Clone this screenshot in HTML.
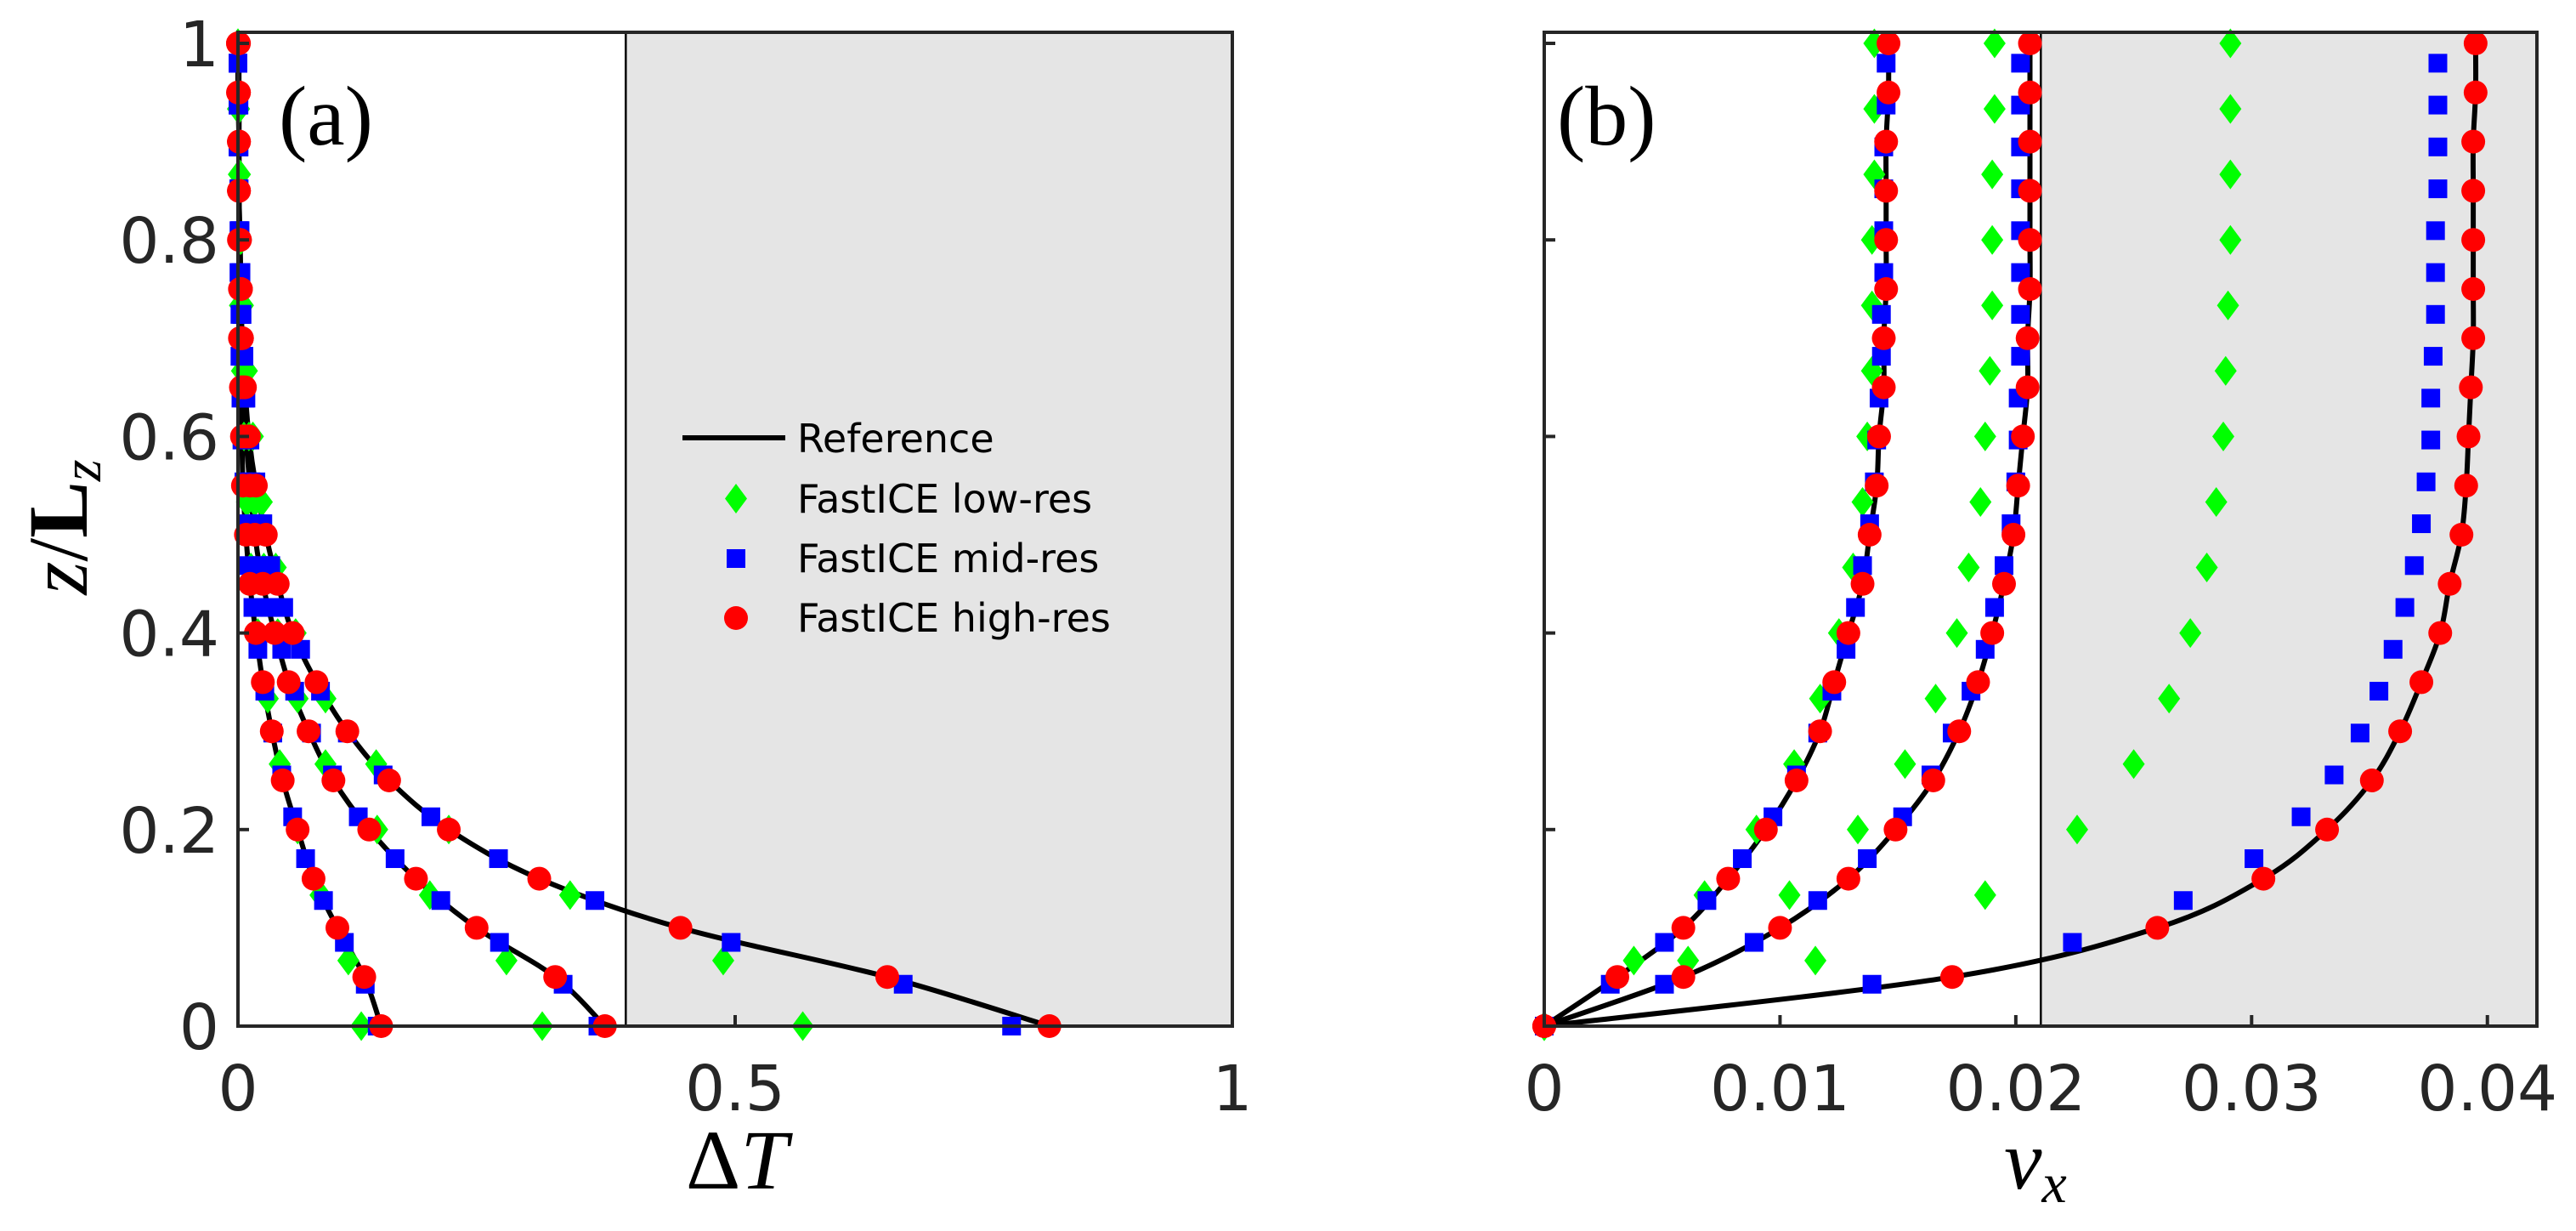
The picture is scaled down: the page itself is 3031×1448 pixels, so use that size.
<!DOCTYPE html>
<html><head><meta charset="utf-8"><style>
html,body{margin:0;padding:0;background:#fff;}
svg{display:block;}
.tick{font-family:"DejaVu Sans","Liberation Sans",sans-serif;font-size:74px;fill:#262626;}
.leg{font-family:"DejaVu Sans","Liberation Sans",sans-serif;font-size:46px;fill:#000;}
.ser{font-family:"Liberation Serif","DejaVu Serif",serif;font-size:100px;fill:#000;}
</style></head><body>
<svg id="chart" width="3031" height="1448" viewBox="0 0 3031 1448" xmlns="http://www.w3.org/2000/svg"></svg>
<script>
// ---------- Panel (a) data: z levels and ΔT values ----------
const zHigh = [0,0.05,0.1,0.15,0.2,0.25,0.3,0.35,0.4,0.45,0.5,0.55,0.6,0.65,0.7,0.75,0.8,0.85,0.9,0.95,1.0];
const zMid = [0,0.0426,0.0852,0.1278,0.1704,0.213,0.2556,0.2982,0.3408,0.3834,0.426,0.4686,0.5112,0.5538,0.5964,0.639,0.6816,0.7242,0.7668,0.8094,0.852,0.8946,0.9372,0.9798];
const zLow = [0,0.0667,0.1333,0.2,0.2667,0.3333,0.4,0.4667,0.5333,0.6,0.6667,0.7333,0.8,0.8667,0.9333,1.0];

const refA1 = [0.144,0.127,0.1,0.076,0.06,0.045,0.034,0.025,0.018,0.012,0.008,0.005,0.004,0.003,0.002,0.002,0.001,0.001,0.001,0.001,0];
const refA2 = [0.369,0.319,0.24,0.179,0.132,0.096,0.071,0.051,0.037,0.025,0.017,0.012,0.008,0.005,0.004,0.003,0.002,0.001,0.001,0.001,0.001];
const refA3 = [0.816,0.653,0.445,0.303,0.212,0.152,0.11,0.079,0.055,0.04,0.028,0.018,0.011,0.007,0.004,0.003,0.002,0.001,0.001,0,0];

const highA1 = [0.144,0.127,0.1,0.076,0.06,0.045,0.034,0.025,0.018,0.012,0.008,0.005,0.004,0.003,0.002,0.002,0.001,0.001,0.001,0.001,0];
const highA2 = [0.369,0.319,0.24,0.179,0.132,0.096,0.071,0.051,0.037,0.025,0.017,0.012,0.008,0.005,0.004,0.003,0.002,0.001,0.001,0.001,0.001];
const highA3 = [0.816,0.653,0.445,0.303,0.212,0.152,0.11,0.079,0.055,0.04,0.028,0.018,0.011,0.007,0.004,0.003,0.002,0.001,0.001,0,0];

const midA1 = [0.14,0.128,0.107,0.086,0.068,0.055,0.044,0.035,0.027,0.02,0.015,0.011,0.008,0.006,0.004,0.003,0.002,0.002,0.001,0.001,0.001,0,0,0];
const midA2 = [0.362,0.327,0.263,0.204,0.158,0.121,0.095,0.074,0.057,0.044,0.033,0.024,0.018,0.013,0.009,0.007,0.005,0.004,0.003,0.002,0.001,0.001,0,0];
const midA3 = [0.778,0.669,0.496,0.359,0.262,0.194,0.146,0.11,0.083,0.063,0.046,0.033,0.025,0.018,0.012,0.008,0.006,0.004,0.003,0.002,0.001,0.001,0.001,0];

const lowA1 = [0.124,0.111,0.083,0.06,0.042,0.03,0.02,0.013,0.009,0.006,0.004,0.002,0.001,0.001,0,0];
const lowA2 = [0.306,0.27,0.193,0.14,0.088,0.06,0.04,0.026,0.017,0.011,0.007,0.004,0.002,0.001,0.001,0];
const lowA3 = [0.568,0.488,0.334,0.212,0.139,0.088,0.058,0.038,0.024,0.015,0.009,0.005,0.003,0.002,0.001,0];

// ---------- Panel (b) data: v_x values ----------
const refB1 = [0,0.0031,0.0059,0.0078,0.0094,0.0107,0.0117,0.0123,0.0129,0.0135,0.0138,0.0141,0.0142,0.0144,0.0144,0.0145,0.0145,0.0145,0.0145,0.0146,0.0146];
const refB2 = [0,0.0059,0.01,0.0129,0.0149,0.0165,0.0176,0.0184,0.019,0.0195,0.0199,0.0201,0.0203,0.0205,0.0205,0.0206,0.0206,0.0206,0.0206,0.0206,0.0206];
const refB3 = [0,0.0173,0.026,0.0305,0.0332,0.0351,0.0363,0.0372,0.038,0.0384,0.0389,0.0391,0.0392,0.0393,0.0394,0.0394,0.0394,0.0394,0.0394,0.0395,0.0395];

const highB1 = [0,0.0031,0.0059,0.0078,0.0094,0.0107,0.0117,0.0123,0.0129,0.0135,0.0138,0.0141,0.0142,0.0144,0.0144,0.0145,0.0145,0.0145,0.0145,0.0146,0.0146];
const highB2 = [0,0.0059,0.01,0.0129,0.0149,0.0165,0.0176,0.0184,0.019,0.0195,0.0199,0.0201,0.0203,0.0205,0.0205,0.0206,0.0206,0.0206,0.0206,0.0206,0.0206];
const highB3 = [0,0.0173,0.026,0.0305,0.0332,0.0351,0.0363,0.0372,0.038,0.0384,0.0389,0.0391,0.0392,0.0393,0.0394,0.0394,0.0394,0.0394,0.0394,0.0395,0.0395];

const midB1 = [0,0.0028,0.0051,0.0069,0.0084,0.0097,0.0107,0.0116,0.0122,0.0128,0.0132,0.0135,0.0138,0.014,0.0141,0.0142,0.0143,0.0143,0.0144,0.0144,0.0144,0.0144,0.0145,0.0145];
const midB2 = [0,0.0051,0.0089,0.0116,0.0137,0.0152,0.0164,0.0173,0.0181,0.0187,0.0191,0.0195,0.0198,0.02,0.0201,0.0201,0.0202,0.0202,0.0202,0.0202,0.0202,0.0202,0.0202,0.0202];
const midB3 = [0,0.0139,0.0224,0.0271,0.0301,0.0321,0.0335,0.0346,0.0354,0.036,0.0365,0.0369,0.0372,0.0374,0.0376,0.0376,0.0377,0.0378,0.0378,0.0378,0.0379,0.0379,0.0379,0.0379];

const lowB1 = [0,0.0038,0.0068,0.009,0.0106,0.0117,0.0125,0.0131,0.0135,0.0137,0.0139,0.0139,0.0139,0.014,0.014,0.014];
const lowB2 = [0,0.0061,0.0104,0.0133,0.0153,0.0166,0.0175,0.018,0.0185,0.0187,0.0189,0.019,0.019,0.019,0.0191,0.0191];
const lowB3 = [0,0.0115,0.0187,0.0226,0.025,0.0265,0.0274,0.0281,0.0285,0.0288,0.0289,0.029,0.0291,0.0291,0.0291,0.0291];

const yTicks = [0,0.2,0.4,0.6,0.8,1];
const yTickLabels = ["0","0.2","0.4","0.6","0.8","1"];
const xTicksA = [0,0.5,1];
const xTickLabelsA = ["0","0.5","1"];
const xTicksB = [0,0.01,0.02,0.03,0.04];
const xTickLabelsB = ["0","0.01","0.02","0.03","0.04"];
const shadeA = 0.39;
const shadeB = 0.02106;

// ---------- layout ----------
const NS = "http://www.w3.org/2000/svg";
const svg = document.getElementById('chart');
function mk(tag, attrs, parent){
  const e = document.createElementNS(NS, tag);
  for (const k in attrs) e.setAttribute(k, attrs[k]);
  (parent||svg).appendChild(e);
  return e;
}
const Y0 = 1207, Y1 = 51, TOP = 38;
function yScale(z){ return Y0 + (Y1 - Y0) * z; }
const axA = {x0:280, x1:1450, vmin:0, vmax:1};
const axB = {x0:1817, x1:2985, vmin:0, vmax:0.0421};
function xs(ax, v){ return ax.x0 + (v - ax.vmin) / (ax.vmax - ax.vmin) * (ax.x1 - ax.x0); }

function smoothPath(pts){
  let d = "M" + pts[0][0] + "," + pts[0][1];
  for (let i = 0; i < pts.length - 1; i++){
    const p0 = pts[Math.max(0,i-1)], p1 = pts[i], p2 = pts[i+1], p3 = pts[Math.min(pts.length-1,i+2)];
    const c1x = p1[0] + (p2[0]-p0[0])/6, c1y = p1[1] + (p2[1]-p0[1])/6;
    const c2x = p2[0] - (p3[0]-p1[0])/6, c2y = p2[1] - (p3[1]-p1[1])/6;
    d += " C" + c1x + "," + c1y + " " + c2x + "," + c2y + " " + p2[0] + "," + p2[1];
  }
  return d;
}

function drawPanel(ax, name, shade){
  const g = mk('g', {});
  
  
  const bg = mk('rect', {x:ax.x0, y:TOP, width:ax.x1-ax.x0, height:Y0-TOP, fill:'#fff'}, g);
  
  
  const sx = xs(ax, shade);
  const sh = mk('rect', {x:sx, y:TOP, width:ax.x1-sx, height:Y0-TOP, fill:'#e5e5e5', stroke:'#000', 'stroke-width':2.5}, g);
  
  
  return g;
}

function drawAxes(ax, name, xTicks, xLabels, showYLabels){
  const g = mk('g', {});
  
  
  const fr = mk('rect', {x:ax.x0, y:TOP, width:ax.x1-ax.x0, height:Y0-TOP, fill:'none', stroke:'#262626', 'stroke-width':4}, g);
  
  
  yTicks.forEach((t,i)=>{
    const y = yScale(t);
    const tk = mk('line', {x1:ax.x0, x2:ax.x0+13, y1:y, y2:y, stroke:'#262626', 'stroke-width':4}, g);
    
    
    if (showYLabels){
      const tl = mk('text', {x:ax.x0-22, y:y+27, 'text-anchor':'end', class:'tick'}, g);
      tl.textContent = yTickLabels[i];
      
      
    }
  });
  xTicks.forEach((t,i)=>{
    const x = xs(ax, t);
    const tk = mk('line', {x1:x, x2:x, y1:Y0, y2:Y0-13, stroke:'#262626', 'stroke-width':4}, g);
    
    
    const tl = mk('text', {x:x, y:1306, 'text-anchor':'middle', class:'tick'}, g);
    tl.textContent = xLabels[i];
    
    
  });
}

function drawLine(ax, zs, vs, name){
  const pts = vs.map((v,i)=>[xs(ax,v), yScale(zs[i])]);
  const p = mk('path', {d:smoothPath(pts), fill:'none', stroke:'#000', 'stroke-width':6}, null);
  
  
}
function drawCircles(ax, zs, vs, name){
  vs.forEach((v,i)=>{
    const c = mk('circle', {cx:xs(ax,v), cy:yScale(zs[i]), r:14, fill:'#ff0000'});
    
    
  });
}
function drawSquares(ax, zs, vs, name){
  vs.forEach((v,i)=>{
    const s = mk('rect', {x:xs(ax,v)-11, y:yScale(zs[i])-11, width:22, height:22, fill:'#0000ff'});
    
    
  });
}
function drawDiamonds(ax, zs, vs, name){
  vs.forEach((v,i)=>{
    const x = xs(ax,v), y = yScale(zs[i]);
    const d = mk('polygon', {points:(x)+","+(y-17.5)+" "+(x+13)+","+y+" "+(x)+","+(y+17.5)+" "+(x-13)+","+y, fill:'#00ff00'});
    
    
  });
}

// Panel a
drawPanel(axA, 'panel-a', shadeA);
[[refA1,'reference-a-1'],[refA2,'reference-a-2'],[refA3,'reference-a-3']].forEach(a=>drawLine(axA, zHigh, a[0], a[1]));
[lowA1,lowA2,lowA3].forEach(a=>drawDiamonds(axA, zLow, a, 'low-res-marker'));
[midA1,midA2,midA3].forEach(a=>drawSquares(axA, zMid, a, 'mid-res-marker'));
[highA1,highA2,highA3].forEach(a=>drawCircles(axA, zHigh, a, 'high-res-marker'));
drawAxes(axA, 'panel-a', xTicksA, xTickLabelsA, true);

// Panel b
drawPanel(axB, 'panel-b', shadeB);
[[refB1,'reference-b-1'],[refB2,'reference-b-2'],[refB3,'reference-b-3']].forEach(a=>drawLine(axB, zHigh, a[0], a[1]));
[lowB1,lowB2,lowB3].forEach(a=>drawDiamonds(axB, zLow, a, 'low-res-marker'));
[midB1,midB2,midB3].forEach(a=>drawSquares(axB, zMid, a, 'mid-res-marker'));
[highB1,highB2,highB3].forEach(a=>drawCircles(axB, zHigh, a, 'high-res-marker'));
drawAxes(axB, 'panel-b', xTicksB, xTickLabelsB, false);
</script>
<script>
// static labels and legend
(function(){
  const NS = "http://www.w3.org/2000/svg";
  const svg = document.getElementById('chart');
  const g = document.createElementNS(NS,'g');
  g.innerHTML =
   '<text class="ser" x="328" y="170">(a)</text>' +
   '<text class="ser" x="1832" y="170">(b)</text>' +
   '<text class="ser" x="867" y="1398" text-anchor="middle">Δ<tspan font-style="italic">T</tspan></text>' +
   '<text class="ser" x="2395" y="1398" text-anchor="middle"><tspan font-style="italic">v</tspan><tspan font-style="italic" font-size="66" dy="16">x</tspan></text>' +
   '<text class="ser" transform="translate(102,620) rotate(-90)" text-anchor="middle"><tspan font-style="italic">z</tspan>/<tspan font-weight="bold">L</tspan><tspan font-style="italic" font-size="66" dy="16">z</tspan></text>' +
   '<g>' +
     '<line x1="803" x2="924" y1="515" y2="515" stroke="#000" stroke-width="6"/>' +
     '<text class="leg" x="938" y="532">Reference</text>' +
     '<polygon points="866,569 879,586.5 866,604 853,586.5" fill="#00ff00"/>' +
     '<text class="leg" x="938" y="603">FastICE low-res</text>' +
     '<rect x="855" y="646" width="22" height="22" fill="#0000ff"/>' +
     '<text class="leg" x="938" y="673">FastICE mid-res</text>' +
     '<circle cx="866" cy="727" r="14" fill="#ff0000"/>' +
     '<text class="leg" x="938" y="743">FastICE high-res</text>' +
   '</g>';
  
  
  svg.appendChild(g);
})();
</script>
</body></html>
